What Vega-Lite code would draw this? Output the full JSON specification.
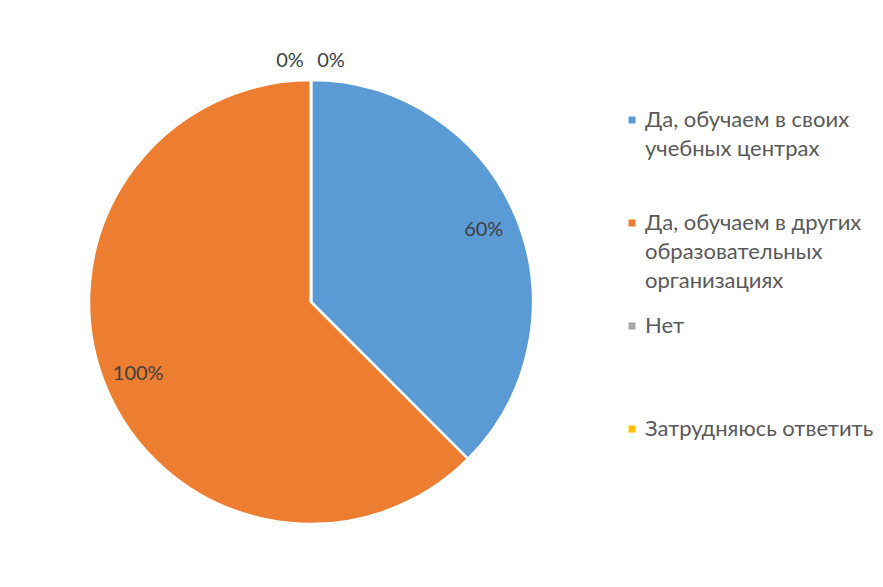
{
  "$schema": "https://vega.github.io/schema/vega-lite/v6.json",
  "width": 622,
  "height": 560,
  "autosize": {"type": "none"},
  "padding": {"left": 0, "top": 22, "right": 261, "bottom": 5},
  "background": "white",
  "config": {
    "view": {"stroke": null},
    "font": "Lato",
    "style": {"guide-label": {"lineHeight": 29, "dy": 7}}
  },
  "data": {
    "values": [
      {"category": "Да, обучаем в своих учебных центрах", "value": 60, "label": "60%", "idx": 1},
      {"category": "Да, обучаем в других образовательных организациях", "value": 100, "label": "100%", "idx": 2},
      {"category": "Нет", "value": 0, "label": "0%", "idx": 3},
      {"category": "Затрудняюсь ответить", "value": 0, "label": "0%", "idx": 4}
    ]
  },
  "encoding": {
    "theta": {"field": "value", "type": "quantitative", "stack": true},
    "order": {"field": "idx", "type": "quantitative"},
    "color": {
      "field": "category",
      "type": "nominal",
      "sort": ["Да, обучаем в своих учебных центрах", "Да, обучаем в других образовательных организациях", "Нет", "Затрудняюсь ответить"],
      "scale": {
        "domain": ["Да, обучаем в своих учебных центрах", "Да, обучаем в других образовательных организациях", "Нет", "Затрудняюсь ответить"],
        "range": ["#5B9BD5", "#ED7D31", "#A5A5A5", "#FFC000"]
      },
      "legend": {
        "title": null,
        "orient": "none",
        "legendX": 621,
        "legendY": 87,
        "padding": 0,
        "symbolType": "square",
        "symbolSize": 49,
        "symbolStrokeWidth": 0,
        "labelOffset": 2,
        "labelFont": "Lato",
        "labelFontSize": 22,
        "labelColor": "#595959",
        "labelLimit": 400,
        "labelBaseline": "alphabetic",
        "rowPadding": 23,
        "labelExpr": "datum.label == 'Да, обучаем в своих учебных центрах' ? ['Да, обучаем в своих', 'учебных центрах', ''] : datum.label == 'Да, обучаем в других образовательных организациях' ? ['Да, обучаем в других', 'образовательных', 'организациях'] : [datum.label, '', '']"
      }
    }
  },
  "layer": [
    {"mark": {"type": "arc", "outerRadius": 222, "stroke": "white", "strokeWidth": 2.5}},
    {
      "transform": [{"filter": "datum.value > 0"}],
      "mark": {"type": "text", "radius": 187, "fontSize": 20, "font": "Lato"},
      "encoding": {"text": {"field": "label"}, "color": {"value": "#404040"}}
    },
    {
      "transform": [{"filter": "datum.category == 'Нет'"}],
      "mark": {"type": "text", "radius": 241, "dx": -21, "fontSize": 20, "font": "Lato"},
      "encoding": {"text": {"field": "label"}, "color": {"value": "#404040"}}
    },
    {
      "transform": [{"filter": "datum.category == 'Затрудняюсь ответить'"}],
      "mark": {"type": "text", "radius": 241, "dx": 20, "fontSize": 20, "font": "Lato"},
      "encoding": {"text": {"field": "label"}, "color": {"value": "#404040"}}
    }
  ]
}
